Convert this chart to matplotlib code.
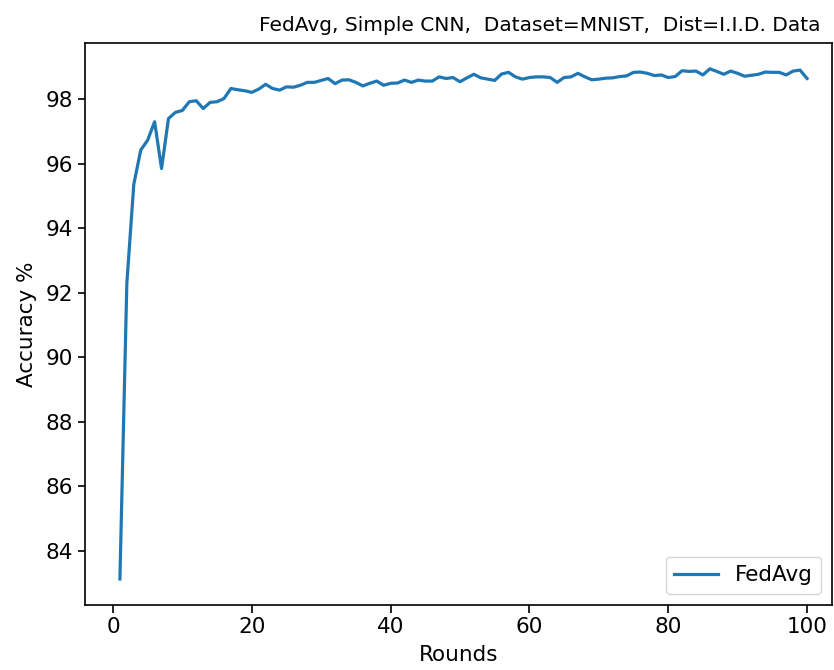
import numpy as np
import matplotlib
matplotlib.use("Agg")
import matplotlib.pyplot as plt

# accuracy per round
rounds = list(range(1, 101))
accuracy = [
    83.13, 92.30, 95.36, 96.42, 96.73, 97.30, 95.85, 97.40, 97.59, 97.65,
    97.92, 97.95, 97.71, 97.90, 97.92, 98.02, 98.33, 98.29, 98.26, 98.21,
    98.31, 98.46, 98.33, 98.28, 98.38, 98.37, 98.43, 98.52, 98.52, 98.58,
    98.64, 98.48, 98.59, 98.60, 98.52, 98.41, 98.49, 98.56, 98.43, 98.49,
    98.50, 98.59, 98.52, 98.59, 98.56, 98.56, 98.69, 98.64, 98.67, 98.54,
    98.66, 98.77, 98.66, 98.62, 98.58, 98.78, 98.83, 98.69, 98.62, 98.67,
    98.69, 98.69, 98.67, 98.52, 98.67, 98.69, 98.80, 98.69, 98.60, 98.62,
    98.65, 98.66, 98.70, 98.72, 98.83, 98.84, 98.80, 98.73, 98.75, 98.67,
    98.70, 98.88, 98.86, 98.87, 98.75, 98.94, 98.86, 98.77, 98.87, 98.80,
    98.71, 98.74, 98.77, 98.84, 98.83, 98.83, 98.75, 98.87, 98.90, 98.64,
]
title = "FedAvg, Simple CNN,  Dataset=MNIST,  Dist=I.I.D. Data"

fs = 15.5
fig = plt.figure(figsize=(8.34, 6.70), dpi=100)
ax = fig.add_axes([85 / 834, 1 - 604.5 / 670, (832 - 85) / 834, (604.5 - 43.3) / 670])

ax.plot(rounds, accuracy, color="#1f77b4", lw=2.3, label="FedAvg")
ax.set_xlim(-4.03, 103.6)
ax.set_xticks([0, 20, 40, 60, 80, 100])
ax.set_yticks([84, 86, 88, 90, 92, 94, 96, 98])
ax.tick_params(labelsize=fs, length=5.4, width=1.2)
for s in ax.spines.values():
    s.set_linewidth(1.2)

ax.set_xlabel("Rounds", fontsize=fs, labelpad=6)
ax.set_ylabel("Accuracy %", fontsize=fs, labelpad=6)
t = ax.set_title(title, fontsize=14.5, pad=9)
t.set_x((540 - 85) / (832 - 85))

ax.legend(loc="lower right", fontsize=fs, borderaxespad=0.5)

fig.savefig("out.png", dpi=100)
